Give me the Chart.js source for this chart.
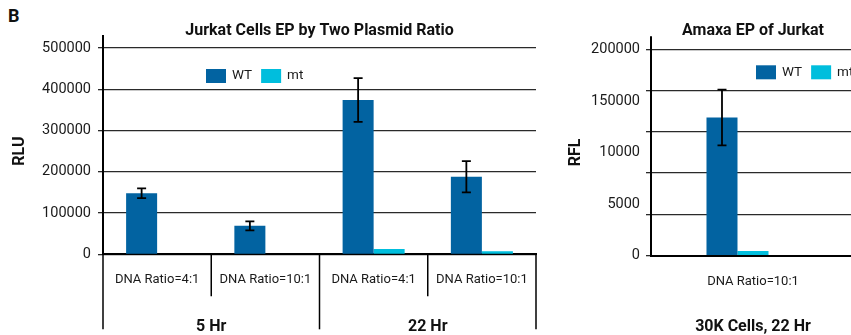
<!DOCTYPE html>
<html>
<head>
<meta charset="utf-8">
<script src="https://cdn.jsdelivr.net/npm/chart.js@4.4.0/dist/chart.umd.min.js"></script>
<style>
  html, body { margin:0; padding:0; background:#fff; overflow:hidden; }
  body { width:851px; height:335px; position:relative; }
  .panel-letter { position:absolute; left:8px; top:5px; font: bold 18px Roboto, sans-serif; color:#111; }
  #leftBox { position:absolute; left:0; top:0; width:545px; height:335px; }
  #rightBox { position:absolute; left:545px; top:0; width:306px; height:335px; overflow:hidden; }
</style>
</head>
<body>
<div class="panel-letter">B</div>
<div id="leftBox"><canvas id="chart-1" width="545" height="335"></canvas></div>
<div id="rightBox"><canvas id="chart-2" width="320" height="335"></canvas></div>
<script>
// left panel
const jurkatCategories = ['DNA Ratio=4:1', 'DNA Ratio=10:1', 'DNA Ratio=4:1', 'DNA Ratio=10:1'];
const jurkatGroups = ['5 Hr', '22 Hr'];
const jurkatWT = [148000, 69000, 374000, 188000];
const jurkatWTErr = [12000, 11000, 53000, 38000];
const jurkatMT = [0, 0, 13000, 7500];

// right panel
const amaxaCategories = ['DNA Ratio=10:1'];
const amaxaGroups = ['30K Cells, 22 Hr'];
const amaxaWT = [134000];
const amaxaWTErr = [27000];
const amaxaMT = [4500];
const amaxaTickLabels = ['0', '5000', '10000', '150000', '200000'];

const WT_COLOR = '#0263a1';
const MT_COLOR = '#00bedd';
const FONT = 'Roboto, sans-serif';
const GRID = '#2a2a2a';

const extras = {
  id: 'extras',
  afterDatasetsDraw(chart, args, opts) {
    const ctx = chart.ctx, area = chart.chartArea;
    const x = chart.scales.x, y = chart.scales.y;
    ctx.save();

    // error bars on WT
    ctx.strokeStyle = '#000';
    ctx.lineWidth = 1.8;
    const meta = chart.getDatasetMeta(0);
    opts.errors.forEach((e, i) => {
      const bar = meta.data[i];
      const v = chart.data.datasets[0].data[i];
      const top = y.getPixelForValue(v + e), bot = y.getPixelForValue(v - e);
      ctx.beginPath();
      ctx.moveTo(bar.x, top); ctx.lineTo(bar.x, bot);
      ctx.moveTo(bar.x - 4.5, top); ctx.lineTo(bar.x + 4.5, top);
      ctx.moveTo(bar.x - 4.5, bot); ctx.lineTo(bar.x + 4.5, bot);
      ctx.stroke();
    });

    // y axis runs a bit above the top gridline
    ctx.lineWidth = 2;
    ctx.beginPath();
    ctx.moveTo(area.left, area.top - 13);
    ctx.lineTo(area.left, area.top);
    ctx.stroke();

    // category / group separators under the axis
    if (opts.separators) {
      ctx.lineWidth = 1.5;
      const n = chart.data.labels.length;
      const per = n / opts.groupCount;
      for (let i = 0; i <= n; i++) {
        let px;
        if (i === 0) px = area.left;
        else if (i === n) px = area.right;
        else px = (x.getPixelForValue(i - 1) + x.getPixelForValue(i)) / 2;
        const len = (i % per === 0) ? 75 : 42;
        ctx.beginPath();
        ctx.moveTo(px, area.bottom);
        ctx.lineTo(px, area.bottom + len);
        ctx.stroke();
      }
    }

    // title
    ctx.fillStyle = '#111';
    ctx.font = 'bold 16px ' + FONT;
    ctx.textAlign = 'center';
    ctx.textBaseline = 'middle';
    ctx.fillText(opts.title, (area.left + area.right) / 2, opts.titleY);

    // legend
    ctx.font = '13.5px ' + FONT;
    ctx.textAlign = 'left';
    let lx = area.left + opts.legendX;
    const ly = area.top + opts.legendY;
    [0, 1].forEach(d => {
      const ds = chart.data.datasets[d];
      ctx.fillStyle = ds.backgroundColor;
      ctx.fillRect(lx, ly, 20, 14);
      lx += 26;
      ctx.fillStyle = '#1a1a1a';
      ctx.fillText(ds.label, lx, ly + 7);
      lx += ctx.measureText(ds.label).width + 9;
    });
    ctx.restore();
  }
};

function axisTitle(text, padTop) {
  return { display: true, text: text, color: '#111', font: { family: FONT, size: 16, weight: 'bold' }, padding: { top: padTop, bottom: 0 } };
}

new Chart(document.getElementById('chart-1'), {
  type: 'bar',
  data: {
    labels: jurkatCategories,
    datasets: [
      { label: 'WT', data: jurkatWT, backgroundColor: WT_COLOR },
      { label: 'mt', data: jurkatMT, backgroundColor: MT_COLOR }
    ]
  },
  options: {
    responsive: false,
    animation: false,
    layout: { padding: { top: 48, right: 9, left: 0, bottom: 0 } },
    datasets: { bar: { categoryPercentage: 0.573, barPercentage: 1, borderWidth: 0 } },
    scales: {
      y: {
        min: 0, max: 500000,
        afterFit: s => { s.width = 103; },
        ticks: { stepSize: 100000, padding: 7, color: '#1a1a1a', font: { family: FONT, size: 14.5 }, callback: v => String(v) },
        grid: { color: GRID, lineWidth: 1.3, tickLength: 5 },
        border: { color: '#000', width: 2 },
        title: axisTitle('RLU', 10.4)
      },
      x: {
        weight: 0,
        afterFit: s => { s.height = 35; },
        grid: { display: false },
        border: { color: '#000', width: 2 },
        ticks: { autoSkip: false, maxRotation: 0, minRotation: 0, padding: 10, color: '#1a1a1a', font: { family: FONT, size: 13 } }
      },
      x2: {
        type: 'category',
        labels: jurkatGroups,
        position: 'bottom',
        offset: true,
        weight: 1,
        afterFit: s => { s.height = 45.7; },
        grid: { display: false },
        border: { display: false },
        ticks: { autoSkip: false, maxRotation: 0, padding: 20, color: '#111', font: { family: FONT, size: 16, weight: 'bold' } }
      }
    },
    plugins: {
      legend: { display: false },
      tooltip: { enabled: false },
      extras: { errors: jurkatWTErr, separators: true, groupCount: jurkatGroups.length,
                title: 'Jurkat Cells EP by Two Plasmid Ratio', titleY: 31, legendX: 103, legendY: 21 }
    }
  },
  plugins: [extras]
});

const amaxaGridStep = 40000, amaxaLabelStep = 50000, amaxaMax = 200000;

new Chart(document.getElementById('chart-2'), {
  type: 'bar',
  data: {
    labels: amaxaCategories,
    datasets: [
      { label: 'WT', data: amaxaWT, backgroundColor: WT_COLOR },
      { label: 'mt', data: amaxaMT, backgroundColor: MT_COLOR },
      { label: '', data: [], backgroundColor: 'transparent' }
    ]
  },
  options: {
    responsive: false,
    animation: false,
    layout: { padding: { top: 49.3, right: 10, left: 0, bottom: 0 } },
    datasets: { bar: { categoryPercentage: 0.456, barPercentage: 1, borderWidth: 0 } },
    scales: {
      y: {
        min: 0, max: amaxaMax,
        afterFit: s => { s.width = 106; },
        afterBuildTicks: s => {
          const vals = new Set();
          for (let v = 0; v <= amaxaMax; v += amaxaGridStep) vals.add(v);
          for (let v = 0; v <= amaxaMax; v += amaxaLabelStep) vals.add(v);
          s.ticks = [...vals].sort((a, b) => a - b).map(v => ({ value: v }));
        },
        ticks: {
          autoSkip: false, padding: 6, color: '#1a1a1a', font: { family: FONT, size: 14.5 },
          callback: v => v % amaxaLabelStep === 0 ? amaxaTickLabels[v / amaxaLabelStep] : ''
        },
        grid: { color: c => (c.tick && c.tick.value % amaxaGridStep === 0) ? GRID : 'transparent', lineWidth: 1.3, tickLength: 5 },
        border: { color: '#000', width: 2 },
        title: axisTitle('RFL', 21)
      },
      x: {
        weight: 0,
        afterFit: s => { s.height = 35; },
        grid: { display: false },
        border: { color: '#000', width: 2 },
        ticks: { autoSkip: false, maxRotation: 0, minRotation: 0, padding: 10.5, color: '#1a1a1a', font: { family: FONT, size: 13 } }
      },
      x2: {
        type: 'category',
        labels: amaxaGroups,
        position: 'bottom',
        offset: true,
        weight: 1,
        afterFit: s => { s.height = 44.3; },
        grid: { display: false },
        border: { display: false },
        ticks: { autoSkip: false, maxRotation: 0, padding: 19, color: '#111', font: { family: FONT, size: 16, weight: 'bold' } }
      }
    },
    plugins: {
      legend: { display: false },
      tooltip: { enabled: false },
      extras: { errors: amaxaWTErr, separators: false,
                title: 'Amaxa EP of Jurkat', titleY: 31, legendX: 105, legendY: 16 }
    }
  },
  plugins: [extras]
});
</script>
</body>
</html>
